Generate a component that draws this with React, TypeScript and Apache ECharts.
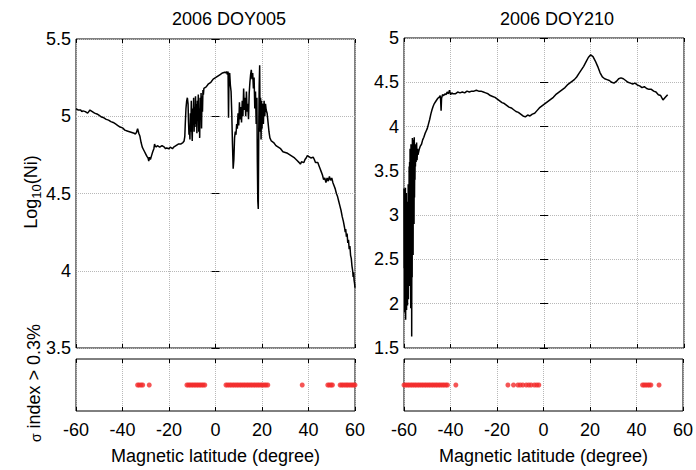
import React, { useEffect, useRef } from "react";
import * as echarts from "echarts";

// ---- DOY005 (left) ----
const latA: number[] = [
  -60, -59, -58, -57.5, -57, -56, -55, -54.5, -54, -53.5, -53, -52, -51, -50, -49, -48, -47, -46, -45, -44,
  -43, -42, -41, -40, -39, -38, -37, -36, -35, -34.5, -34, -33.5, -33, -32.5, -32, -31.5, -31, -30.5, -30, -29.5,
  -29, -28.7, -28.4, -28, -27.5, -27, -26.5, -26.2, -26, -25.5, -25, -24.5, -24, -23, -22, -21.5, -21, -20, -19.5, -19,
  -18.5, -18, -17, -16, -15, -14, -13.5, -13.2, -13, -12.7, -12.4, -12.1, -11.8, -11.6, -11.4, -11.2, -11.0, -10.8, -10.6, -10.4,
  -10.2, -10.0, -9.8, -9.6, -9.4, -9.2, -9.0, -8.8, -8.6, -8.4, -8.2, -8.0, -7.8, -7.6, -7.4, -7.2, -7.0, -6.8, -6.6, -6.4,
  -6.2, -6.0, -5.8, -5.6, -5.4, -5.2, -5.0, -4, -3, -2, -1, 0, 1, 2, 3, 4, 4.5, 4.8, 5.1, 5.4,
  5.6, 5.8, 6.1, 6.4, 6.7, 7.0, 7.3, 7.6, 7.9, 8.2, 8.5, 8.8, 9.1, 9.4, 9.7, 10.0, 10.3, 10.6, 10.9, 11.2,
  11.5, 11.8, 12.1, 12.4, 12.7, 13.0, 13.3, 13.6, 13.9, 14.2, 14.5, 14.8, 15.1, 15.4, 15.7, 16.0, 16.3, 16.6, 16.9, 17.2,
  17.5, 17.8, 18.0, 18.2, 18.4, 18.6, 18.8, 19.0, 19.2, 19.4, 19.6, 19.8, 20.0, 20.3, 20.6, 20.9, 21.2, 21.5, 21.8, 22.2,
  22.6, 23.0, 23.4, 24, 25, 26, 27, 28, 29, 30, 31, 32, 33, 34, 35, 36, 36.5, 37, 38, 38.5,
  39, 39.5, 40, 41, 42, 42.5, 43, 44, 44.5, 45, 45.5, 46, 46.5, 47, 47.5, 48, 48.5, 49, 49.5, 50,
  50.5, 51, 51.5, 52, 52.5, 53, 53.5, 54, 54.5, 55, 55.5, 55.8, 56, 56.3, 56.6, 56.9, 57.2, 57.5, 57.8, 58.1,
  58.4, 58.7, 59, 59.2, 59.4, 59.6, 59.8, 60,
];
const niA: number[] = [
  5.05, 5.04, 5.04, 5.03, 5.035, 5.03, 5.02, 5.03, 5.04, 5.035, 5.03, 5.02, 5.015, 5.005, 4.995, 4.99, 4.98, 4.975, 4.965, 4.96,
  4.95, 4.94, 4.93, 4.925, 4.91, 4.905, 4.9, 4.895, 4.89, 4.885, 4.895, 4.92, 4.89, 4.87, 4.83, 4.8, 4.785, 4.77, 4.755, 4.74,
  4.73, 4.71, 4.735, 4.72, 4.745, 4.77, 4.79, 4.82, 4.81, 4.8, 4.81, 4.805, 4.8, 4.81, 4.8, 4.79, 4.795, 4.79, 4.8, 4.795,
  4.79, 4.8, 4.81, 4.82, 4.82, 4.83, 4.84, 4.87, 4.95, 5.05, 5.1, 5.12, 5.08, 4.96, 4.88, 4.93, 4.85, 5.02, 4.9, 5.1,
  4.92, 4.84, 5.05, 4.95, 5.12, 4.9, 5.06, 4.93, 5.13, 4.95, 5.08, 4.89, 5.1, 4.97, 5.14, 4.9, 5.05, 4.86, 5.12, 4.98,
  5.15, 4.92, 5.13, 5.03, 5.17, 5.14, 5.18, 5.19, 5.21, 5.22, 5.24, 5.25, 5.26, 5.27, 5.28, 5.285, 5.28, 5.29, 5.27, 5.29,
  4.99, 5.26, 5.28, 5.2, 5.16, 5.02, 4.82, 4.66, 4.72, 4.86, 4.9, 4.88, 4.95, 4.92, 5.02, 4.94, 5.09, 4.98, 5.06, 4.96,
  5.1, 5.0, 5.18, 5.04, 5.12, 5.0, 5.16, 5.03, 5.08, 4.98, 5.15, 5.22, 5.27, 5.3, 5.24, 5.28, 5.18, 5.25, 5.05, 5.16,
  4.95, 5.12, 4.7, 4.45, 4.4, 4.9, 5.2, 5.33, 4.9, 5.12, 4.85, 5.1, 4.92, 5.08, 4.95, 5.1, 5.0, 5.08, 5.04, 5.02,
  4.96, 4.9, 4.86, 4.84, 4.83, 4.81, 4.8, 4.79, 4.77, 4.765, 4.76, 4.75, 4.74, 4.73, 4.715, 4.7, 4.69, 4.705, 4.7, 4.72,
  4.73, 4.745, 4.74, 4.73, 4.735, 4.72, 4.7, 4.7, 4.68, 4.66, 4.64, 4.62, 4.59, 4.6, 4.57, 4.6, 4.58, 4.61, 4.585, 4.6,
  4.57, 4.55, 4.53, 4.5, 4.48, 4.45, 4.42, 4.39, 4.35, 4.32, 4.28, 4.25, 4.27, 4.22, 4.24, 4.18, 4.2, 4.14, 4.16, 4.1,
  4.08, 4.03, 4.0, 3.96, 3.99, 3.94, 3.92, 3.89,
];

// ---- DOY210 (right) ----
const latB: number[] = [
  -60, -59.9, -59.8, -59.7, -59.6, -59.5, -59.4, -59.3, -59.2, -59.1, -59.0, -58.9, -58.8, -58.7, -58.6, -58.5, -58.4, -58.3, -58.2, -58.1,
  -58.0, -57.9, -57.8, -57.7, -57.6, -57.5, -57.4, -57.3, -57.2, -57.1, -57.0, -56.9, -56.8, -56.7, -56.6, -56.5, -56.4, -56.3, -56.2, -56.1,
  -56.0, -55.9, -55.8, -55.7, -55.6, -55.5, -55.4, -55.3, -55.2, -55.1, -55.0, -54.8, -54.6, -54.4, -54.2, -54.0, -53.5, -53, -52.5, -52,
  -51.5, -51, -50.5, -50, -49.5, -49, -48.5, -48, -47.5, -47, -46.5, -46, -45.5, -45, -44.5, -44.3, -44.1, -43.9, -43.5, -43,
  -42.5, -42, -41.5, -41, -40.5, -40, -39.5, -39, -38, -37, -36, -35, -34, -33, -32, -31, -30, -29, -28, -27,
  -26, -25, -24, -23, -22, -21, -20, -19, -18, -17, -16, -15, -14, -13, -12, -11, -10, -9, -8, -7,
  -6, -5, -4, -3, -2, -1, 0, 1, 2, 3, 4, 5, 6, 7, 8, 9, 10, 11, 12, 13,
  14, 15, 16, 17, 18, 19, 20, 21, 22, 23, 24, 25, 26, 27, 28, 29, 30, 31, 32, 33,
  34, 35, 36, 37, 38, 39, 40, 41, 42, 43, 44, 45, 46, 47, 48, 49, 50, 51, 52, 53,
];
const niB: number[] = [
  3.3, 2.4, 3.05, 1.9, 3.2, 2.3, 3.31, 1.82, 2.85, 2.1, 3.25, 1.93, 2.7, 2.25, 3.15, 1.98, 2.95, 2.4, 3.35, 2.05,
  3.1, 2.5, 3.55, 2.2, 3.6, 2.35, 3.75, 2.26, 3.45, 1.95, 3.8, 2.6, 3.7, 1.63, 3.5, 2.3, 3.87, 2.8, 3.6, 2.55,
  3.85, 3.0, 3.75, 2.9, 3.88, 3.2, 3.7, 3.4, 3.8, 3.55, 3.72, 3.6, 3.82, 3.62, 3.75, 3.68, 3.74, 3.78, 3.8, 3.85,
  3.88, 3.92, 3.95, 3.98, 4.03, 4.08, 4.14, 4.19, 4.23, 4.26, 4.28, 4.3, 4.32, 4.33, 4.35, 4.3, 4.18, 4.32, 4.36, 4.35,
  4.37, 4.36, 4.39, 4.37, 4.41, 4.36, 4.38, 4.37, 4.37, 4.39, 4.38, 4.39, 4.38, 4.4, 4.39, 4.4, 4.4, 4.41, 4.4, 4.4,
  4.39, 4.38, 4.37, 4.35, 4.34, 4.33, 4.31, 4.29, 4.27, 4.26, 4.24, 4.22, 4.21, 4.19, 4.17, 4.16, 4.14, 4.12, 4.11, 4.13,
  4.12, 4.14, 4.15, 4.18, 4.21, 4.23, 4.25, 4.27, 4.29, 4.31, 4.33, 4.36, 4.38, 4.4, 4.42, 4.44, 4.47, 4.49, 4.51, 4.53,
  4.56, 4.6, 4.64, 4.68, 4.73, 4.78, 4.81, 4.79, 4.74, 4.68, 4.61, 4.56, 4.54, 4.53, 4.52, 4.5, 4.49, 4.51, 4.54, 4.55,
  4.54, 4.52, 4.5, 4.49, 4.48, 4.49, 4.47, 4.46, 4.44, 4.45, 4.43, 4.42, 4.42, 4.4, 4.39, 4.36, 4.35, 4.3, 4.33, 4.36,
];

// ---- sigma index > 0.3% markers ----
const dotsA: number[] = [
  -33.5, -32.8, -32.0, -31.3, -28.5,
  -12.3, -11.6, -10.9, -10.2, -9.5, -8.8, -8.1, -7.4, -6.7, -6.0, -5.3, -4.6,
  4.5, 5.2, 6.0, 6.7, 7.5, 8.2, 9.0, 9.7, 10.5, 11.2, 12.0, 12.7, 13.5, 14.2, 15.0, 15.7, 16.5, 17.2, 18.0, 18.7,
  19.5, 20.2, 21.0, 21.7, 22.5,
  37.3, 48.3, 49.0, 49.7, 50.3,
  53.6, 54.3, 55.0, 55.8, 56.5, 57.2, 58.0, 58.7, 59.4, 60.0,
];
const dotsB: number[] = [
  -60, -59.3, -58.5, -57.8, -57, -56.3, -55.5, -54.8, -54, -53.3, -52.5, -51.8, -51, -50.3, -49.5, -48.8, -48, -47.3,
  -46.5, -45.8, -45, -44.3, -43.5, -42.8, -42, -41.3, -37.7,
  -15.3, -12.9, -11.0, -10.0, -8.9, -7.4, -6.3, -5.3, -3.9, -2.9, -2.0,
  42.6, 43.3, 44.0, 44.8, 45.5, 46.2, 49.7,
];

const titles = ["2006 DOY005", "2006 DOY210"];
const xTicks = { min: -60, max: 60, interval: 20 };
const yRangeA = { min: 3.5, max: 5.5, interval: 0.5 };
const yRangeB = { min: 1.5, max: 5, interval: 0.5 };

const FONT = "Liberation Sans, Arial, Helvetica, sans-serif";
const FS = 18;

export default function App() {
  const ref = useRef<HTMLDivElement>(null);
  useEffect(() => {
    if (!ref.current) return;
    const chart = echarts.init(ref.current, undefined, { renderer: "svg" });

    const grids = [
      { left: 76, top: 39, width: 279, height: 309 },
      { left: 404, top: 38, width: 280, height: 310 },
      { left: 76, top: 359, width: 279, height: 52 },
      { left: 404, top: 359, width: 280, height: 52 },
    ].map((g) => ({ ...g, show: true, borderColor: "#000", borderWidth: 1, backgroundColor: "transparent" }));

    const split = { show: true, lineStyle: { color: "#b8b8b8", type: "dotted" as const, width: 1 } };
    const tick = { show: true, inside: true, length: 4, lineStyle: { color: "#000" } };
    const label = { color: "#000", fontSize: FS, fontFamily: FONT };

    const xAxis: any[] = [];
    for (let i = 0; i < 4; i++) {
      xAxis.push({
        type: "value",
        gridIndex: i,
        position: "bottom",
        ...xTicks,
        axisLine: { show: false },
        axisTick: tick,
        splitLine: split,
        axisLabel: i >= 2 ? { ...label, margin: 10 } : { show: false },
        name: i >= 2 ? "Magnetic latitude (degree)" : "",
        nameLocation: "middle",
        nameGap: 36,
        nameTextStyle: { ...label },
      });
    }
    for (let i = 0; i < 4; i++) {
      xAxis.push({
        type: "value",
        gridIndex: i,
        position: "top",
        ...xTicks,
        axisLine: { show: false },
        axisTick: tick,
        splitLine: { show: false },
        axisLabel: { show: false },
      });
    }
    const yAxis: any[] = [
      { type: "value", gridIndex: 0, ...yRangeA, axisLine: { show: false }, axisTick: tick, splitLine: split, axisLabel: { ...label, margin: 5 } },
      { type: "value", gridIndex: 1, ...yRangeB, axisLine: { show: false }, axisTick: tick, splitLine: split, axisLabel: { ...label, margin: 5 } },
      { type: "value", gridIndex: 2, min: 0, max: 2, show: false },
      { type: "value", gridIndex: 3, min: 0, max: 2, show: false },
      { type: "value", gridIndex: 0, position: "right", ...yRangeA, axisLine: { show: false }, axisTick: tick, splitLine: { show: false }, axisLabel: { show: false } },
      { type: "value", gridIndex: 1, position: "right", ...yRangeB, axisLine: { show: false }, axisTick: tick, splitLine: { show: false }, axisLabel: { show: false } },
    ];

    const lineSeries = (lats: number[], vals: number[], idx: number) => ({
      type: "line",
      xAxisIndex: idx,
      yAxisIndex: idx,
      data: lats.map((x, i) => [x, vals[i]]),
      showSymbol: false,
      symbol: "none",
      lineStyle: { color: "#000", width: 1.5 },
      silent: true,
    });
    const dotSeries = (lats: number[], idx: number) => ({
      type: "scatter",
      xAxisIndex: idx,
      yAxisIndex: idx,
      data: lats.map((x) => [x, 1]),
      symbol: "circle",
      symbolSize: 5,
      itemStyle: { color: "#f22a2a" },
      clip: false,
      silent: true,
    });

    const textStyle = (text: string, extra: any = {}) => ({
      text,
      fill: "#000",
      font: `${FS}px ${FONT}`,
      fontSize: FS,
      fontFamily: FONT,
      align: "center",
      verticalAlign: "middle",
      textAlign: "center",
      textVerticalAlign: "middle",
      ...extra,
    });

    chart.setOption({
      animation: false,
      backgroundColor: "#fff",
      grid: grids,
      xAxis,
      yAxis,
      series: [lineSeries(latA, niA, 0), lineSeries(latB, niB, 1), dotSeries(dotsA, 2), dotSeries(dotsB, 3)],
      graphic: [
        { type: "text", x: 229, y: 19, style: textStyle(titles[0]) },
        { type: "text", x: 557, y: 19, style: textStyle(titles[1]) },
        {
          type: "text",
          x: 31,
          y: 192,
          rotation: Math.PI / 2,
          style: textStyle("{a|Log}{b|10}{a|(Ni)}", {
            rich: {
              a: { fontSize: FS, fontFamily: FONT, fill: "#000", color: "#000" },
              b: { fontSize: 13, fontFamily: FONT, fill: "#000", color: "#000", padding: [10, 0, 0, 0] },
            },
          }),
        },
        {
          type: "text",
          x: 34,
          y: 383,
          rotation: Math.PI / 2,
          style: textStyle("{s|σ} {a|index > 0.3%}", {
            rich: {
              a: { fontSize: FS, fontFamily: FONT, fill: "#000", color: "#000" },
              s: { fontSize: 14, fontFamily: FONT, fill: "#000", color: "#000", padding: [4, 0, 0, 0] },
            },
          }),
        },
      ],
    });
    return () => chart.dispose();
  }, []);
  return <div ref={ref} style={{ position: "absolute", left: 0, top: 0, width: 696, height: 470 }} />;
}
